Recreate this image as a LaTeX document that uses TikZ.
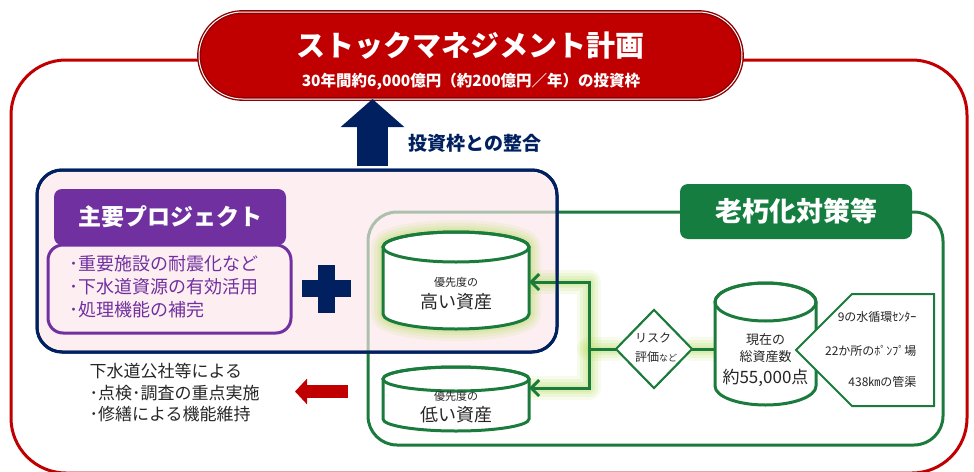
\documentclass[tikz,border=0pt]{standalone}
\usepackage{fontspec}
\setmainfont{Noto Sans CJK JP}
\usetikzlibrary{arrows.meta,shapes.geometric,shapes.misc}
\definecolor{tred}{HTML}{C00000}
\definecolor{tdred}{HTML}{8E0000}
\definecolor{navy}{HTML}{002060}
\definecolor{ppl}{HTML}{7030A0}
\definecolor{pinkbg}{HTML}{FCE6EA}
\definecolor{grn}{HTML}{1B7B3C}
\definecolor{grnhead}{HTML}{147D3F}
\definecolor{glowc}{HTML}{BDE070}
\definecolor{txt}{HTML}{262626}
\newcommand\cylshape[4]{\path[#4] ([yshift=-#3]#1.north west) -- ([yshift=#3]#1.south west) arc[start angle=180,end angle=360,x radius=#2,y radius=#3] -- ([yshift=-#3]#1.north east) arc[start angle=0,end angle=180,x radius=#2,y radius=#3] -- cycle;}
\newcommand\cyltop[4]{\path[#4] ([yshift=-#3]#1.north) ellipse[x radius=#2,y radius=#3];}
\begin{document}
\begin{tikzpicture}[x=1pt,y=1pt,
  box/.style={inner sep=0pt, outer sep=0pt},
  conn/.style={draw=grn, line width=3pt},
  arr/.style={-{Straight Barb[length=8pt,width=16pt]}},
  glowA/.style={draw=glowc, line width=24pt, opacity=0.14, line cap=round, line join=round},
  glowB/.style={draw=glowc, line width=18pt, opacity=0.16, line cap=round, line join=round},
  glowC/.style={draw=glowc, line width=12pt, opacity=0.2, line cap=round, line join=round},
  glowD/.style={draw=glowc, line width=7pt, opacity=0.25, line cap=round, line join=round},
  cylbody/.style={draw=grn, line width=3pt, fill=white},
  cylline/.style={draw=grn, line width=3pt},
  small/.style={font=\fontsize{11}{13}\selectfont, text=txt},
  big/.style={font=\fontsize{18}{20}\selectfont, text=txt},
  bluebox/.style={box, draw=navy, line width=3pt, rounded corners=25pt, minimum width=520pt, minimum height=182pt},
]
\useasboundingbox (0,0) rectangle (974,-471);

% outer red frame
\node[box, draw=tred, line width=3pt, rounded corners=55pt, minimum width=956pt, minimum height=413pt] (frame) at (489,-266.5) {};

% title
\node[box, rounded rectangle, fill=tred, draw=tdred, double=white, double distance=1pt, line width=1.4pt, minimum width=543pt, minimum height=87pt] (title) at (470.5,-55.5) {};
\node[text=white, font=\fontsize{29}{32}\selectfont\bfseries] (ttext) at (470,-46) {ストックマネジメント計画};
\node[text=white, font=\fontsize{15.5}{18}\selectfont\bfseries] (tsub) at (471,-82) {30年間約6,000億円（約200億円／年）の投資枠};

% green region
\node[box, draw=grn, line width=3pt, rounded corners=29pt, minimum width=575pt, minimum height=233pt] (aging) at (655.5,-328.5) {};

% blue project region
\node[bluebox, fill=pinkbg, fill opacity=0.65] (proj) at (297,-261) {};

% navy arrow to title
\coordinate (ab) at (372.5,-166);
\draw[navy, line width=31pt, -{Triangle[length=28pt,width=62pt]}] (ab) -- (ab |- title.south);
\node[anchor=west, text=navy, font=\fontsize{19}{21}\selectfont\bfseries] (fit) at (405,-143) {投資枠との整合};

% purple project boxes
\node[box, draw=ppl, line width=3pt, rounded corners=15pt, minimum width=243pt, minimum height=88pt] (plist) at (169.5,-289) {};
\node[box, fill=ppl, rounded corners=8pt, minimum width=232pt, minimum height=56pt, text=white, font=\fontsize{23}{25}\selectfont\bfseries] (phead) at (170,-217) {主要プロジェクト};
\node[anchor=west, align=left, text=ppl, font=\fontsize{18}{23}\selectfont] (ptext) at (66,-287) {･重要施設の耐震化など\\･下水道資源の有効活用\\･処理機能の補完};

% plus sign
\fill[navy] (318,-265) rectangle (335,-313);
\fill[navy] (302,-280) rectangle (351,-297);

% green header
\node[box, fill=grnhead, rounded corners=8pt, minimum width=232pt, minimum height=55pt, text=white, font=\fontsize{27}{29}\selectfont\bfseries] (ahead) at (796,-211.5) {老朽化対策等};

% cylinder geometry nodes
\node[box, minimum width=146pt, minimum height=97pt] (hi) at (456,-280.5) {};
\node[box, minimum width=146pt, minimum height=64pt] (lo) at (456,-399) {};
\node[box, minimum width=101pt, minimum height=122pt] (total) at (765.5,-344) {};
\node[box, diamond, draw=grn, line width=2pt, fill=white, minimum width=76pt, minimum height=78pt] (risk) at (654,-349) {};
\coordinate (jn) at (589,-349);

% glow
\foreach \g in {glowA,glowB,glowC,glowD}{
  \cylshape{hi}{73pt}{15pt}{\g}
  \draw[\g] ([yshift=-1.5pt]hi.east) -| (jn) |- ([yshift=11pt]lo.east);
  \draw[\g] (jn) -- (risk.west);
  \draw[\g] (risk.east) -- (risk.east -| total.west);
}

% cylinders
\cylshape{hi}{73pt}{15pt}{cylbody}
\cyltop{hi}{73pt}{15pt}{cylline}
\cylshape{lo}{73pt}{12pt}{cylbody}
\cyltop{lo}{73pt}{12pt}{cylline}
\cylshape{total}{50.5pt}{19pt}{cylbody}
\cyltop{total}{50.5pt}{19pt}{cylline}

\node[small] (hi1) at (456,-282) {優先度の};
\node[big] (hi2) at (456,-302) {高い資産};
\node[small] (lo1) at (456,-396) {優先度の};
\node[big] (lo2) at (456,-415) {低い資産};

% connectors
\draw[conn, arr] (jn) |- ([yshift=-1.5pt]hi.east);
\draw[conn, arr] (jn) |- ([yshift=11pt]lo.east);
\draw[conn] (risk.west) -- (jn);
\draw[conn] (risk.east) -- (risk.east -| total.west);
\node[box, diamond, draw=grn, line width=2pt, fill=white, minimum width=76pt, minimum height=78pt] (risk2) at (risk) {};
\node[align=left, text=txt, font=\fontsize{12}{19}\selectfont] (risktext) at (656,-348) {リスク\\評価{\fontsize{9}{9}\selectfont など}};

% blue border on top
\node[bluebox] (projb) at (proj) {};

% total assets text
\node[text=txt, font=\fontsize{13}{15}\selectfont] (t1) at (765.5,-340) {現在の};
\node[text=txt, font=\fontsize{13}{15}\selectfont] (t2) at (765.5,-357) {総資産数};
\node[text=txt, font=\fontsize{17}{19}\selectfont] (t3) at (765.5,-378) {約55,000点};

% callout
\draw[draw=grn, line width=2pt, fill=white, line join=miter] (796,-350) -- (852,-294) -- (934,-294) -- (934,-406) -- (852,-406) -- cycle;
\node[anchor=east, text=txt, font=\fontsize{12}{14}\selectfont] (c1) at (920,-317) {9の水循環ｾﾝﾀｰ};
\node[anchor=east, text=txt, font=\fontsize{12}{14}\selectfont] (c2) at (920,-351) {22か所のﾎﾟﾝﾌﾟ場};
\node[anchor=east, text=txt, font=\fontsize{12}{14}\selectfont] (c3) at (920,-382) {438㎞の管渠};

% maintenance text and red arrow
\node[anchor=west, align=left, text=txt, font=\fontsize{17}{21.5}\selectfont] (maint) at (86,-393) {下水道公社等による\\･点検･調査の重点実施\\･修繕による機能維持};
\coordinate (rs) at (348,-391.5);
\coordinate (re) at (295,-391.5);
\draw[tred, line width=13pt, -{Triangle[length=12pt,width=25pt]}] (rs) -- (re);
\end{tikzpicture}
\end{document}
